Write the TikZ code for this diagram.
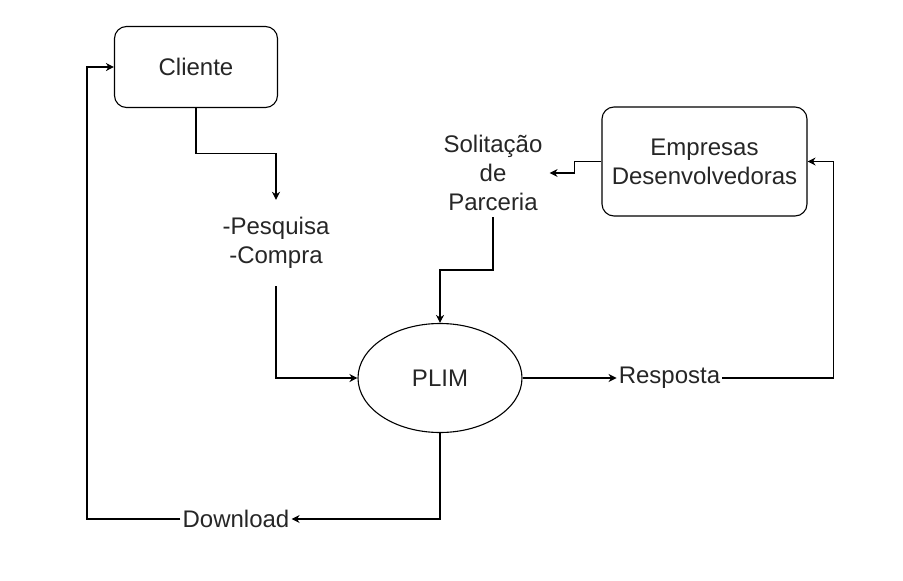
\documentclass[tikz,border=0pt]{standalone}
\usepackage{fontspec}
\setmainfont{Liberation Sans}
\usetikzlibrary{arrows.meta,positioning,calc,shapes.geometric}
\tikzset{main base/.style={draw,line width=1.1pt,text centered,align=center, }, }
\tikzset{main node/.style={rectangle,rounded corners=12pt,main base}, }
\tikzset{main verb/.style={inner xsep=2pt,inner ysep=6pt,align=center}, }
\tikzset{processo/.style={ellipse,main base,inner sep=0pt}, }
\tikzset{linea/.style={-{Stealth[length=8pt,width=8pt,inset=2.5pt]},line width=1.1pt,draw}}

\begin{document}
\begin{tikzpicture}[x=1pt,y=-1pt,text=black!85,font=\fontsize{24}{29}\selectfont]
  \useasboundingbox (0,0) rectangle (903,581);
  %
    \node[main node, minimum width=163, minimum height=81] (cliente) at (196,67) {Cliente};
    \node[main verb, minimum height=86] (pc) at (276,243) {-Pesquisa\\-Compra};
    \node[processo, minimum width=164, minimum height=109] (plim) at (440,378) {PLIM};
    \node[main verb] (resp) [right=94pt of plim] {Resposta};
    \node[main node, minimum width=205, minimum height=109] (emp) at (704.5,161.5) {Empresas\\Desenvolvedoras};
    \node[main verb, inner xsep=7pt] (sol) at (493,173) {Solitação\\de\\Parceria};
    \node[main verb] (dl) at (236,519) {Download};
  %
    \path[linea] (cliente.south) |- ($(cliente.south)!0.5!(pc.north)$) -| (pc.north);
    \path[linea] (sol.south) |- ($(sol.south)!0.5!(plim.north)$) -| (plim.north);
\foreach \x /\y in {pc.south/plim.west, plim.south/dl.east}
  \path[linea] (\x) |- (\y);
    \path[linea] (plim.east) -- (resp.west);
    \path[linea] (resp.east) -| ($(emp.east)+(26,0)$) -- (emp.east);
    \path[linea] (emp.west) -- ++(-27,0) |- (sol.east);
    \path[linea] (dl.west) -| ($(cliente.west)+(-27,0)$) -- (cliente.west);
%
\end{tikzpicture}
\end{document}
